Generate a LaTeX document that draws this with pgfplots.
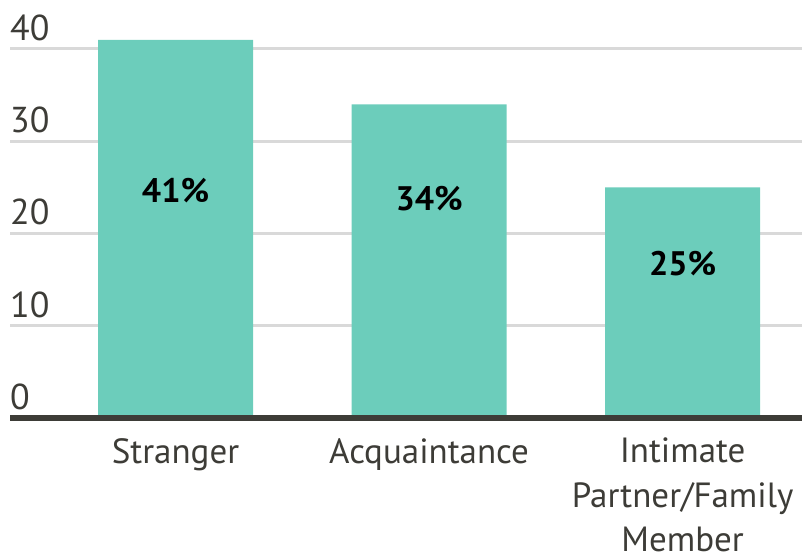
\documentclass[border=0pt]{standalone}
\usepackage{pgfplots}
\pgfplotsset{compat=1.18}
\usepackage{fontspec}
\setmainfont{PT Sans}
\definecolor{barc}{HTML}{6CCDBB}
\definecolor{txt}{HTML}{3D3C37}
\definecolor{gridc}{HTML}{D9D9D9}
\begin{document}
\begin{tikzpicture}
\path[use as bounding box] (0,0) rectangle (802pt,556pt);
\begin{axis}[
  at={(10pt,138pt)}, anchor=south west,
  scale only axis, width=792pt, height=418pt,
  xmin=-0.653, xmax=2.471, ymin=0, ymax=45.31,
  axis line style={draw=none},
  ybar, bar width=0.611, bar shift=0pt,
  xtick={0,1,2}, xticklabels={Stranger,Acquaintance,{Intimate\\Partner/Family\\Member}},
  ytick={0,10,20,30,40},
  ymajorgrids, grid style={gridc, line width=3pt},
  major tick length=0pt,
  /pgf/number format/assume math mode=true,
  yticklabel style={font=\fontsize{36}{44}\selectfont, text=txt, anchor=south west, inner sep=0pt, yshift=8pt},
  xticklabel style={font=\fontsize{35}{44.5}\selectfont, text=txt, align=center, anchor=north, inner sep=0pt, yshift=-20pt},
  clip=false,
]
\addplot[fill=barc, draw=none] coordinates {(0,41) (1,34) (2,25)};
\draw[txt, line width=5.5pt] (rel axis cs:0,0) -- (rel axis cs:1,0);
\node[font=\fontsize{34}{40}\selectfont\bfseries, text=black] at (axis cs:0,24.7) {41\%};
\node[font=\fontsize{34}{40}\selectfont\bfseries, text=black] at (axis cs:1,23.8) {34\%};
\node[font=\fontsize{34}{40}\selectfont\bfseries, text=black] at (axis cs:2,16.7) {25\%};
\end{axis}
\end{tikzpicture}
\end{document}
